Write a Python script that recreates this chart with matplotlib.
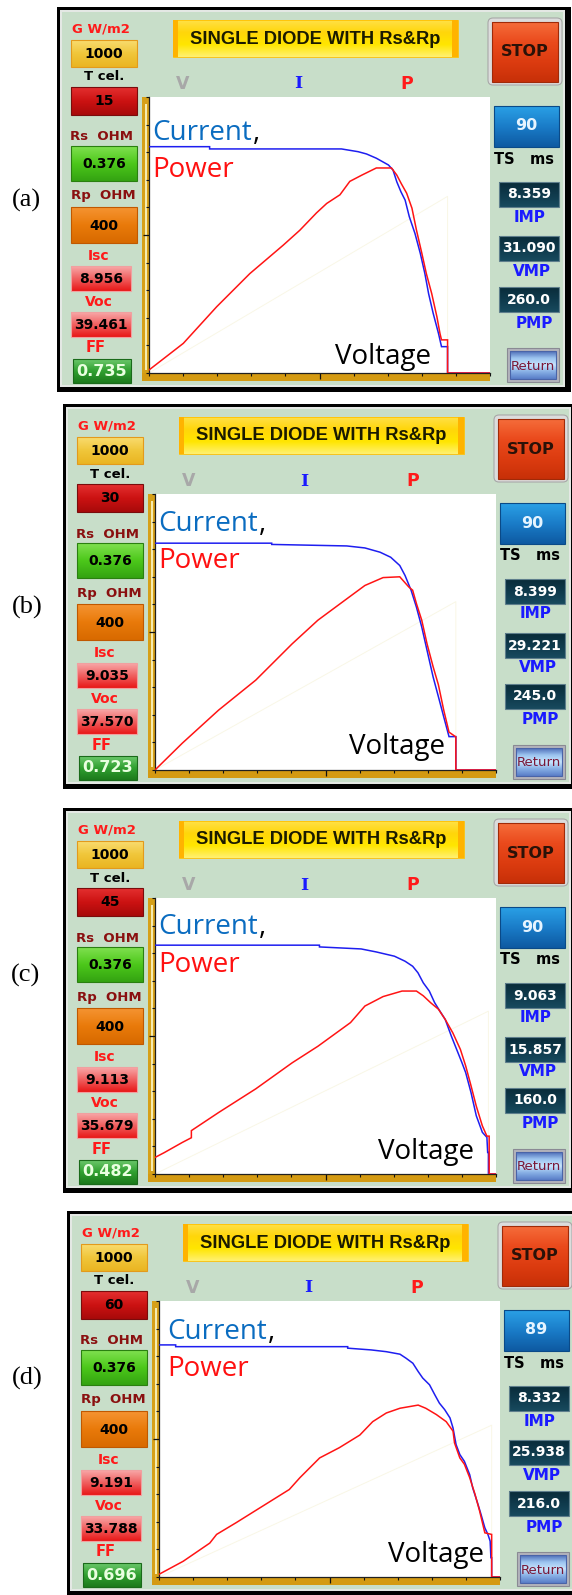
import numpy as np
import matplotlib
matplotlib.use("Agg")
import matplotlib.pyplot as plt
from matplotlib.patches import Rectangle, FancyBboxPatch
from matplotlib.colors import to_rgb

W, H = 572, 1595

# ---------------- data ----------------
panel_labels = ["(a)", "(b)", "(c)", "(d)"]
g_values = ["1000", "1000", "1000", "1000"]
t_cell = ["15", "30", "45", "60"]
rs_values = ["0.376", "0.376", "0.376", "0.376"]
rp_values = ["400", "400", "400", "400"]
isc_values = ["8.956", "9.035", "9.113", "9.191"]
voc_values = ["39.461", "37.570", "35.679", "33.788"]
ff_values = ["0.735", "0.723", "0.482", "0.696"]
ts_values = ["90", "90", "90", "89"]
imp_values = ["8.359", "8.399", "9.063", "8.332"]
vmp_values = ["31.090", "29.221", "15.857", "25.938"]
pmp_values = ["260.0", "245.0", "160.0", "216.0"]

# I-V curves (voltage V, current A)
v_cur_a = [0, 8.0, 8.0, 25.4, 27.6, 28.7, 30.0, 31.6, 32.2, 32.7, 33.25, 33.8, 34.35, 35.1, 35.8, 36.4, 36.9, 37.5, 38.2, 38.6, 39.4, 39.4, 45]
i_cur_a = [9.02, 9.02, 8.93, 8.93, 8.82, 8.73, 8.56, 8.29, 8.09, 7.62, 7.22, 6.89, 6.23, 5.56, 4.77, 3.97, 3.16, 2.38, 1.58, 1.05, 1.05, 0, 0]
v_cur_b = [0, 15.4, 15.4, 25.3, 27.7, 29.7, 31.1, 32.3, 33.0, 33.8, 34.5, 35.2, 35.9, 36.7, 37.4, 38.1, 38.8, 39.7, 39.7, 45]
i_cur_b = [9.04, 9.04, 8.99, 8.93, 8.85, 8.68, 8.48, 8.15, 7.75, 7.16, 6.49, 5.70, 4.77, 3.71, 2.92, 2.12, 1.33, 1.33, 0, 0]
v_cur_c = [0, 21.7, 21.7, 27.2, 29.2, 31.6, 33.0, 34.0, 34.7, 35.4, 36.2, 36.9, 37.6, 38.3, 39.1, 39.8, 40.5, 41.0, 41.7, 42.4, 43.2, 43.8, 43.9, 44.0, 44.0, 45]
i_cur_c = [9.12, 9.12, 9.05, 8.97, 8.85, 8.68, 8.48, 8.28, 8.02, 7.62, 7.29, 6.83, 6.49, 6.16, 5.50, 4.97, 4.44, 4.04, 3.25, 2.32, 1.66, 1.46, 0.86, 0.86, 0, 0]
v_cur_d = [0, 2.2, 2.2, 24.9, 24.9, 28.0, 30.0, 31.8, 32.6, 33.5, 34.2, 34.8, 35.7, 36.4, 37.0, 37.7, 38.4, 38.8, 39.2, 39.7, 40.3, 41.0, 41.4, 42.1, 42.5, 43.0, 43.4, 43.7, 43.8, 43.9, 43.9, 45]
i_cur_d = [9.25, 9.25, 9.18, 9.18, 9.12, 9.05, 8.98, 8.88, 8.72, 8.52, 8.19, 7.93, 7.66, 7.26, 6.93, 6.67, 6.34, 5.94, 5.28, 4.88, 4.61, 4.08, 3.55, 2.89, 2.49, 1.96, 1.70, 1.43, 0.77, 0.77, 0, 0]

# P-V curves (voltage V, power W)
v_pow_a = [0, 4.53, 8.93, 13.3, 17.7, 19.9, 22.1, 23.45, 25.2, 26.5, 28.1, 30.0, 32.0, 32.7, 33.3, 34.0, 34.7, 35.3, 36.0, 36.6, 37.3, 38.0, 38.4, 38.6, 39.4, 39.4, 45]
p_pow_a = [3.8, 37.6, 84, 126, 162, 181, 203, 215, 226, 243, 251, 260, 260, 251, 240, 228, 209, 181, 152, 126, 101, 71, 50, 42, 42, 0, 0]
v_pow_b = [0, 3.6, 8.4, 13.3, 18.1, 21.5, 25.3, 27.7, 30.1, 32.3, 33.5, 34.0, 34.5, 35.2, 35.9, 36.7, 37.4, 38.1, 38.8, 39.7, 39.7, 45]
p_pow_b = [0, 34, 76, 114, 160, 190, 217, 234, 244, 245, 232, 228, 211, 190, 160, 131, 108, 76, 48, 42, 0, 0]
v_pow_c = [0, 1.2, 3.6, 4.8, 4.8, 8.4, 13.3, 18.1, 21.5, 25.8, 27.7, 30.1, 32.6, 34.5, 35.4, 36.4, 37.4, 38.3, 39.3, 40.3, 41.0, 41.7, 42.4, 43.2, 43.8, 44.1, 44.1, 45]
p_pow_c = [21, 27, 40, 46, 55, 78, 108, 141, 162, 192, 213, 225, 232, 232, 226, 217, 209, 196, 179, 158, 137, 112, 86, 61, 48, 48, 0, 0]
v_pow_d = [0, 3.2, 6.7, 7.6, 10.2, 13.7, 17.2, 18.6, 21.2, 23.8, 26.5, 28.2, 30.0, 31.8, 34.2, 35.2, 36.6, 37.9, 38.8, 39.0, 39.7, 40.3, 41.0, 41.7, 42.3, 43.0, 43.9, 43.9, 45]
p_pow_d = [3.4, 20, 43, 54, 69, 90, 111, 126, 151, 164, 180, 197, 208, 214, 218, 214, 206, 197, 185, 170, 151, 143, 126, 105, 84, 56, 54, 0, 0]

# faint voltage trace end (voltage, fraction of height)
vtrace_end_v = [39.4, 39.7, 44.0, 43.9]
vtrace_end_h = [0.64, 0.61, 0.59, 0.55]

curves_I = [(v_cur_a, i_cur_a), (v_cur_b, i_cur_b), (v_cur_c, i_cur_c), (v_cur_d, i_cur_d)]
curves_P = [(v_pow_a, p_pow_a), (v_pow_b, p_pow_b), (v_pow_c, p_pow_c), (v_pow_d, p_pow_d)]

# ---------------- layout ----------------
offsets = [(0, 0), (6, 397), (6, 801), (10, 1204)]
label_pos = [(26, 200), (27, 607), (26, 975), (27, 1378)]
cur_txt = [(152, 133), (158, 524), (158, 927), (167, 1332)]
pow_txt = [(152, 170), (158, 561), (158, 965), (167, 1369)]
volt_txt = [(383, 357), (397, 747), (426, 1152), (436, 1555)]

GUI = "DejaVu Sans"
CURVE_FONT = "Open Sans"

fig = plt.figure(figsize=(W / 100, H / 100), dpi=100)
fig.patch.set_facecolor("white")
bg = fig.add_axes([0, 0, 1, 1])
bg.axis("off")


def grad(x0, y0, x1, y1, colors, z=2):
    cols = [np.array(to_rgb(c)) for c in colors]
    n = 48
    t = np.linspace(0, 1, n)
    seg = np.linspace(0, 1, len(cols))
    img = np.zeros((n, 1, 3))
    for k in range(3):
        img[:, 0, k] = np.interp(t, seg, [c[k] for c in cols])
    bg.imshow(img, extent=(x0, x1, y1, y0), origin="upper", aspect="auto",
              zorder=z, interpolation="bilinear")


def box(x0, y0, x1, y1, colors, edge, lw=0.8, z=2):
    grad(x0, y0, x1, y1, colors, z)
    bg.add_patch(Rectangle((x0, y0), x1 - x0, y1 - y0, fill=False, ec=edge, lw=lw, zorder=z + 0.1))


def txt(x, y, s, size, color="black", weight="bold", family=GUI, ha="center", z=6):
    bg.text(x, y, s, fontsize=size, color=color, fontweight=weight, family=family,
            ha=ha, va="center", zorder=z)


for i in range(4):
    dx, dy = offsets[i]
    X = lambda v: v + dx
    Y = lambda v: v + dy

    # frame
    bg.add_patch(Rectangle((X(57), Y(7)), 514, 385, fc="black", ec="none", zorder=1))
    bg.add_patch(Rectangle((X(60), Y(10)), 505, 377, fc="#e4e8e4", ec="none", zorder=1.1))
    bg.add_patch(Rectangle((X(62), Y(12)), 501, 373, fc="#c8dec9", ec="none", zorder=1.2))

    # panel label
    bg.text(label_pos[i][0], label_pos[i][1], panel_labels[i], fontsize=19,
            family="Liberation Serif", ha="center", va="center", color="black")

    # left column
    txt(X(100.5), Y(29), "G W/m2", 9.5, "#ff1a1a")
    box(X(71), Y(40), X(137), Y(67), ["#f9dc70", "#f0c63a", "#eab522"], "#e39a1c")
    txt(X(104), Y(54), g_values[i], 10)
    txt(X(104), Y(77), "T cel.", 9.5, "black")
    box(X(71), Y(87), X(137), Y(115), ["#e43030", "#cc1212", "#a80a0a"], "#7a0c0c")
    txt(X(104), Y(101), t_cell[i], 10)
    txt(X(101.5), Y(137), "Rs  OHM", 9.5, "#8a1010")
    box(X(71), Y(146), X(137), Y(181), ["#80e050", "#4cc81a", "#34a312"], "#2a8010")
    txt(X(104), Y(164), rs_values[i], 10)
    txt(X(103), Y(196), "Rp  OHM", 9.5, "#8a1010")
    box(X(71), Y(207), X(137), Y(243), ["#f59432", "#e97a0a", "#d86a00"], "#c05800")
    txt(X(104), Y(226), rp_values[i], 10)
    txt(X(98.5), Y(256), "Isc", 10, "#ff1a1a")
    box(X(71), Y(266), X(131), Y(291), ["#f8a8a8", "#f06060", "#e81818"], "#f0a0a0")
    txt(X(101), Y(279), isc_values[i], 10)
    txt(X(98.5), Y(302), "Voc", 10, "#ff1a1a")
    box(X(71), Y(312), X(131), Y(337), ["#f8a8a8", "#f06060", "#e81818"], "#f0a0a0")
    txt(X(101), Y(325), voc_values[i], 10)
    txt(X(96), Y(348), "FF", 10.5, "#ff1a1a")
    box(X(73), Y(359), X(131), Y(383), ["#6cc86c", "#30a030", "#1c7a1c"], "#1a6a1a")
    txt(X(102), Y(371), ff_values[i], 11.5, "#e9ffe0")

    # title
    box(X(173), Y(20), X(458), Y(57), ["#ffe046", "#ffd60a", "#ffe600", "#fff070"], "#ffc000", lw=0.6)
    bg.add_patch(Rectangle((X(172.5), Y(20)), 5.5, 37, fc="#ffb300", ec="none", zorder=2.2))
    bg.add_patch(Rectangle((X(452), Y(20)), 6, 37, fc="#ffb300", ec="none", zorder=2.2))
    txt(X(315), Y(39), "SINGLE DIODE WITH Rs&Rp", 13.2, "#1a1a00", family="Liberation Sans")

    # V I P
    txt(X(183), Y(84), "V", 12.5, "#a8a8a8")
    txt(X(298), Y(84), "I", 12.5, "#1a1aff", family="DejaVu Serif")
    txt(X(407), Y(84), "P", 12.5, "#ff1a1a")

    # right column
    bg.add_patch(FancyBboxPatch((X(488), Y(18)), 74, 67, boxstyle="round,pad=0,rounding_size=5",
                                fc="#dcdcdc", ec="#a8a8a8", lw=0.8, zorder=2))
    box(X(492), Y(22), X(558), Y(82), ["#f56c3a", "#ea4a1c", "#dc3c10", "#c83008"], "#a02a08", z=2.5)
    txt(X(525), Y(52), "STOP", 11.5, "#2a1208")
    box(X(494), Y(106), X(559), Y(147), ["#2aa0e6", "#1a7cc8", "#0e5aa2"], "#0a4a88")
    txt(X(526), Y(126), ts_values[i], 11.5, "#e6f4ff")
    txt(X(524.5), Y(159), "TS   ms", 10.5, "black")
    for (yy0, yy1, val, lab, ly, lx) in [(182, 207, imp_values[i], "IMP", 217, 530),
                                         (236, 261, vmp_values[i], "VMP", 271, 531.5),
                                         (287, 312, pmp_values[i], "PMP", 323, 534.5)]:
        box(X(499), Y(yy0), X(559), Y(yy1), ["#0a2c3a", "#0f3a4c", "#184a5e"], "#5e7e8c")
        txt(X(529), Y((yy0 + yy1) / 2), val, 10, "white")
        txt(X(lx), Y(ly), lab, 11, "#1a1aff")
    bg.add_patch(Rectangle((X(507), Y(348)), 52, 34, fc="#b4b4bc", ec="#8a8a94", lw=0.8, zorder=2))
    box(X(510), Y(351), X(556), Y(379), ["#4e6eb8", "#9cc4f0", "#c8e4fc", "#86aee4", "#5a7ec8"], "#4a64a8", z=2.5)
    txt(X(533), Y(366), "Return", 9.5, "#7a1838", weight="normal")

    # axis bars
    bg.add_patch(Rectangle((X(141.5), Y(97)), 7.5, 283.5, fc="#d6a018", ec="none", zorder=2))
    bg.add_patch(Rectangle((X(144.5), Y(104)), 2.5, 266, fc="#f6ecb0", ec="none", zorder=2.1))
    bg.add_patch(Rectangle((X(141.5), Y(373)), 348.5, 7.5, fc="#d49a12", ec="none", zorder=2))

    # plot area
    x0, x1 = X(149), X(490)
    y0, y1 = Y(97), Y(373)
    ax = fig.add_axes([x0 / W, 1 - y1 / H, (x1 - x0) / W, (y1 - y0) / H])
    ax.set_facecolor("white")
    ax.set_xlim(0, 45)
    ax.set_ylim(0, 11)
    for s in ["top", "right"]:
        ax.spines[s].set_visible(False)
    for s in ["left", "bottom"]:
        ax.spines[s].set_color("#202020")
        ax.spines[s].set_linewidth(0.9)
    ax.set_xticks([22.5])
    ax.set_xticks(np.linspace(0, 45, 11), minor=True)
    ax.set_yticks([5.5])
    ax.set_yticks(np.linspace(0, 11, 11), minor=True)
    ax.tick_params(which="major", direction="out", length=4.5, width=0.9, color="#111111",
                   labelbottom=False, labelleft=False)
    ax.tick_params(which="minor", direction="out", length=2.4, width=0.8, color="#111111")

    # faint voltage trace
    ax.plot([0, vtrace_end_v[i], vtrace_end_v[i]], [0, vtrace_end_h[i] * 11, 0],
            color="#f9f7e6", lw=0.7, zorder=1)

    vI, iI = curves_I[i]
    ax.plot(vI, iI, color="#1e1ef0", lw=1.1, zorder=3, solid_joinstyle="miter")

    ax2 = ax.twinx()
    ax2.set_ylim(0, 350)
    ax2.set_yticks([])
    for s in ax2.spines.values():
        s.set_visible(False)
    vP, pP = curves_P[i]
    ax2.plot(vP, pP, color="#ff1414", lw=1.1, zorder=3, solid_joinstyle="miter")

    t_cur = ax2.text(cur_txt[i][0], cur_txt[i][1], "Current", transform=bg.transData, fontsize=20,
                     family=CURVE_FONT, color="#0a6cc0", ha="left", va="center")
    ax2.annotate(",", xy=(1, 0), xycoords=t_cur, xytext=(0.5, 0), textcoords="offset points",
                 fontsize=20, family=CURVE_FONT, color="black", ha="left", va="bottom")
    ax2.text(pow_txt[i][0], pow_txt[i][1], "Power", transform=bg.transData, fontsize=20,
             family=CURVE_FONT, color="#ff1010", ha="left", va="center")
    ax2.text(volt_txt[i][0], volt_txt[i][1], "Voltage", transform=bg.transData, fontsize=20,
             family=CURVE_FONT, color="black", ha="center", va="center")

bg.set_xlim(0, W)
bg.set_ylim(H, 0)

fig.savefig("out.png", dpi=100)
